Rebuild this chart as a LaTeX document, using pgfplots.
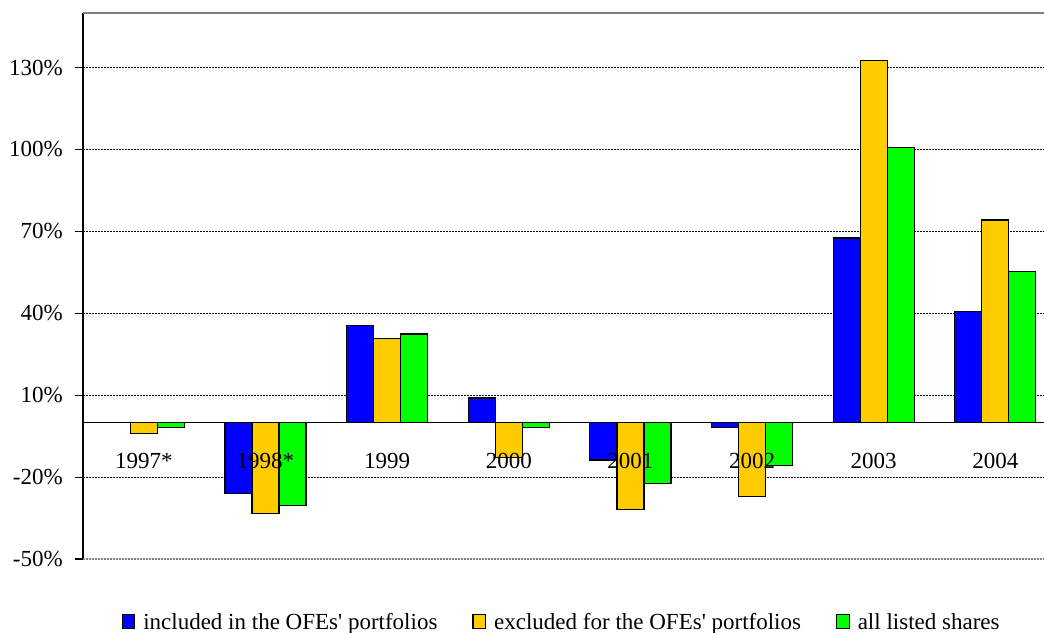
\documentclass[border=0pt]{standalone}
\usepackage{fontspec}
\setmainfont{Liberation Serif}
\usepackage{pgfplots}
\pgfplotsset{compat=1.18}
\definecolor{cblue}{RGB}{0,0,255}
\definecolor{corange}{RGB}{255,204,0}
\definecolor{cgreen}{RGB}{0,255,0}
\pgfplotsset{
  base/.style={at={(0,0)}, anchor=south west,
    scale only axis, width=961pt, height=546pt,
    xmin=-0.5, xmax=7.4, ymin=-50, ymax=150, clip=false,
    every tick label/.append style={font=\fontsize{23}{27}\selectfont},
    /pgf/number format/assume math mode=true},
  sqlegend/.style={legend image code/.code={\draw[##1, draw=black, line width=1.2pt] (0pt,-7pt) rectangle (12.5pt,7pt);}}}
\begin{document}
\begin{tikzpicture}
\begin{axis}[
  base,
  axis y line=left, axis x line=middle,
  axis line style={-},
  y axis line style={line width=1.6pt},
  x axis line style={line width=1.2pt},
  tick align=outside,
  major tick length=8pt, minor tick length=8pt,
  ytick={-50,-20,10,40,70,100,130},
  yticklabel={\pgfmathprintnumber{\tick}\%},
  ytick style={black, line width=1.2pt},
  xtick=\empty,
  minor xtick={0.5,1.5,...,6.5},
  minor x tick style={black, line width=1.2pt},
  ymajorgrids,
  grid style={black, line width=0.7pt, dash pattern=on 2pt off 1pt},
  yticklabel style={inner sep=2pt, xshift=-10pt},
  ybar, bar width=0.222,
  legend style={at={(0.498,-0.115)}, anchor=center, draw=none, fill=none,
    font=\fontsize{23}{27}\selectfont,
    /tikz/every odd column/.append style={column sep=6pt},
    /tikz/every even column/.append style={column sep=33pt}},
  legend columns=3,
  legend cell align=left,
]
\addplot[fill=cblue, draw=black, line width=1.2pt, bar shift=-0.222, sqlegend] coordinates {
(1,-26.1) (2,35.5) (3,9.0) (4,-13.7) (5,-1.9) (6,67.6) (7,40.6)};
\addplot[fill=corange, draw=black, line width=1.2pt, bar shift=0, sqlegend] coordinates {
(0,-3.9) (1,-33.4) (2,30.8) (3,-12.9) (4,-31.9) (5,-27.0) (6,132.7) (7,74.2)};
\addplot[fill=cgreen, draw=black, line width=1.2pt, bar shift=0.222, sqlegend] coordinates {
(0,-1.8) (1,-30.5) (2,32.4) (3,-1.9) (4,-22.4) (5,-15.8) (6,100.6) (7,55.3)};
\legend{included in the OFEs\textquotesingle{} portfolios, excluded for the OFEs\textquotesingle{} portfolios, all listed shares}
\draw[gray, line width=1.5pt] (rel axis cs:0,1) -- (rel axis cs:1,1);
\draw[gray, line width=1.5pt, dash pattern=on 2pt off 1pt] (rel axis cs:0,0) -- (rel axis cs:1,0);
\end{axis}
% overlay axis: category labels drawn above the bars
\begin{axis}[
  base,
  axis y line=none, axis x line=middle,
  x axis line style={draw=none},
  ytick=\empty,
  xtick={0,...,7},
  xticklabels={1997*,1998*,1999,2000,2001,2002,2003,2004},
  major x tick style={draw=none},
  xticklabel style={anchor=base, yshift=-44pt},
]
\end{axis}
\pgfresetboundingbox
\path (-83pt,-73pt) rectangle (961pt,559pt);
\end{tikzpicture}
\end{document}
